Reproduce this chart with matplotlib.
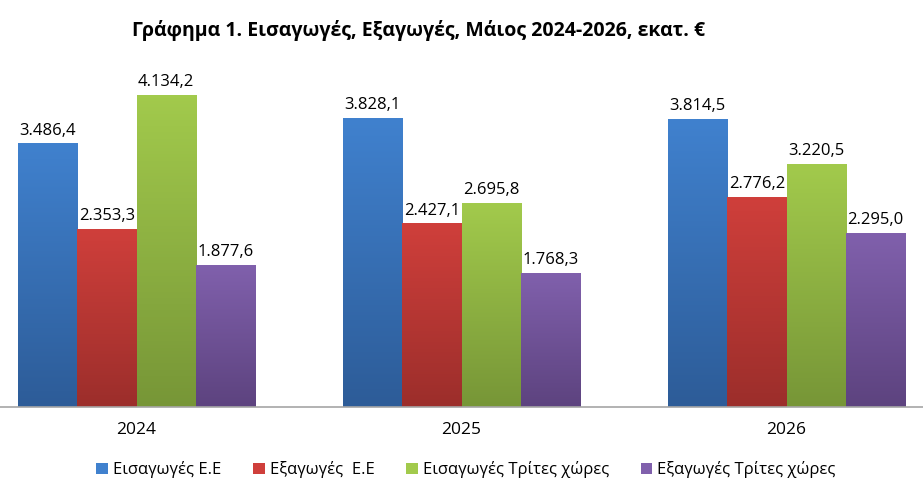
import matplotlib
matplotlib.use('Agg')
import matplotlib.pyplot as plt
import numpy as np
from matplotlib.colors import LinearSegmentedColormap
from matplotlib.patches import Patch

plt.rcParams['font.family'] = ['Open Sans', 'DejaVu Sans']

years = ['2024', '2025', '2026']
series = ['Εισαγωγές Ε.Ε', 'Εξαγωγές  Ε.Ε', 'Εισαγωγές Τρίτες χώρες', 'Εξαγωγές Τρίτες χώρες']
imports_eu = [3486.4, 3828.1, 3814.5]
exports_eu = [2353.3, 2427.1, 2776.2]
imports_third = [4134.2, 2695.8, 3220.5]
exports_third = [1877.6, 1768.3, 2295.0]
values = [imports_eu, exports_eu, imports_third, exports_third]

# (top colour, bottom colour) per series
colors = [('#4081CE', '#2D5C98'), ('#CF3F3B', '#9C2E2B'),
          ('#A2CA4C', '#779637'), ('#8060AC', '#5D437F')]


def fmt(v):
    s = f'{v:,.1f}'
    return s.replace(',', 'X').replace('.', ',').replace('X', '.')


fig = plt.figure(figsize=(9.23, 5.03), dpi=100)
ax = fig.add_axes([0.0, 0.191, 1.0, 0.75])

x = np.arange(len(years))
w = 0.182
for i, vals in enumerate(values):
    pos = x + (i - 1.5) * w
    bars = ax.bar(pos, vals, w, color='none')
    cmap = LinearSegmentedColormap.from_list('g%d' % i, [colors[i][1], colors[i][0]])
    for b, v in zip(bars, vals):
        x0 = b.get_x()
        ax.imshow(np.linspace(0, 1, 100).reshape(-1, 1), cmap=cmap, origin='lower',
                  extent=(x0, x0 + b.get_width(), 0, v), aspect='auto', zorder=2)
        ax.text(x0 + b.get_width() / 2, v + 70, fmt(v), ha='center', va='bottom',
                fontsize=12, zorder=3)

ax.set_xlim(-0.42, 2.42)
ax.set_ylim(0, 5000)
ax.set_xticks(x)
ax.set_xticklabels(years, fontsize=12.5)
ax.tick_params(axis='x', length=0, pad=11)
ax.set_yticks([])
for s in ['top', 'right', 'left']:
    ax.spines[s].set_visible(False)
ax.spines['bottom'].set_color('#A6A6A6')
ax.spines['bottom'].set_linewidth(1.2)

fig.text(0.453, 0.94, 'Γράφημα 1. Εισαγωγές, Εξαγωγές, Μάιος 2024-2026, εκατ. €',
         ha='center', va='center', fontsize=14, fontweight='bold')

handles = [Patch(facecolor=c[0], label=s) for c, s in zip(colors, series)]
fig.legend(handles=handles, loc='center', bbox_to_anchor=(0.505, 0.066), ncol=4,
           frameon=False, fontsize=12, handlelength=0.7, handleheight=0.7,
           handletextpad=0.3, columnspacing=1.9)

fig.savefig('out.png', dpi=100)
